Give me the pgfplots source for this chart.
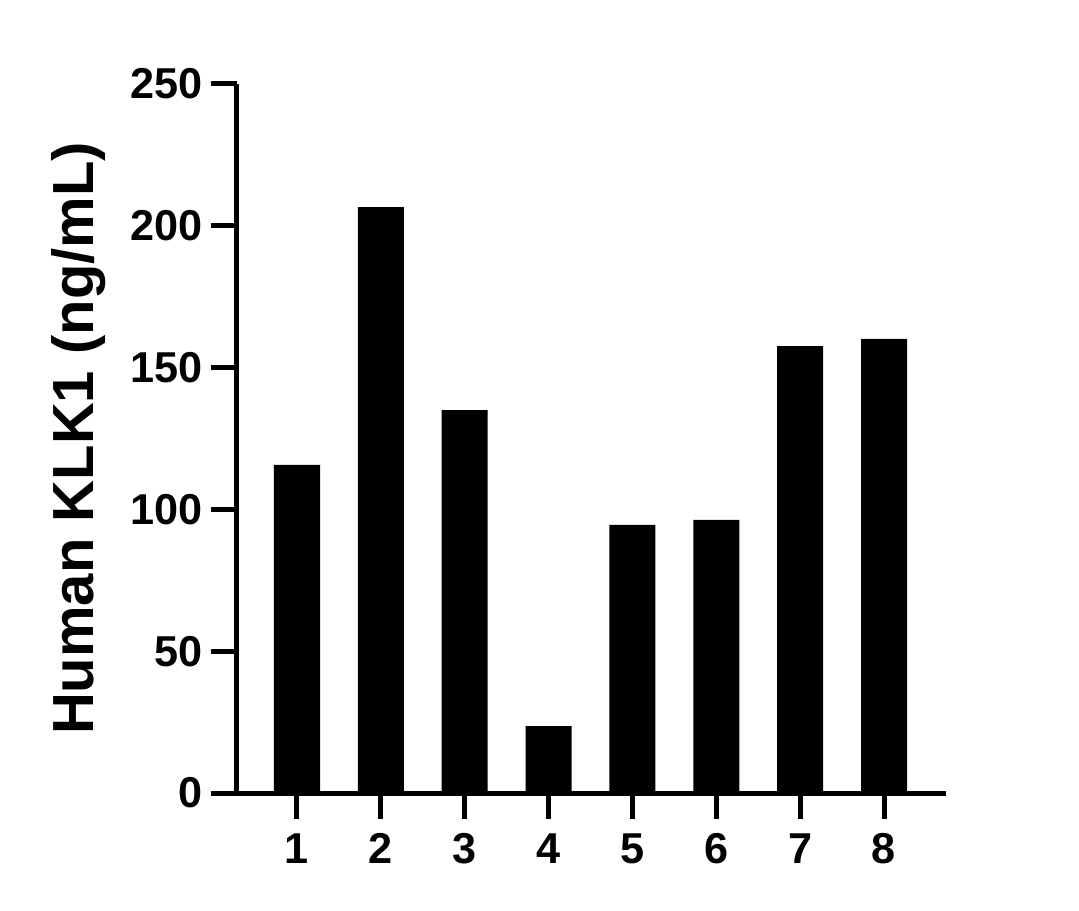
\documentclass[border=0pt]{standalone}
\usepackage{fontspec}
\setmainfont{Liberation Sans}
\usepackage{pgfplots}
\pgfplotsset{compat=1.18}

\pgfplotstableread{
x  y
1  115.7
2  206.6
3  135.0
4  23.6
5  94.5
6  96.3
7  157.6
8  160.1
}\klk

\begin{document}
\begin{tikzpicture}
\begin{axis}[
    name=ax,
    scale only axis,
    width=354.5pt, height=354.5pt,
    xmin=0.2845, xmax=8.7395,
    ymin=0, ymax=250,
    axis x line*=bottom,
    axis y line*=left,
    axis line style={-, line width=2.5pt},
    every tick/.style={black, line width=2.5pt},
    tick align=outside,
    major tick length=13pt,
    xtick={1,...,8},
    ytick={0,50,...,250},
    /pgf/number format/assume math mode=true,
    tick label style={font=\fontsize{21.6}{24}\selectfont\bfseries},
    yticklabel style={anchor=east, inner sep=0pt, xshift=-4pt},
    xticklabel style={anchor=north, inner sep=0pt, yshift=-7pt},
    ylabel={Human KLK1 (ng/mL)},
    ylabel style={font=\fontsize{29}{32}\selectfont\bfseries,
        at={(axis description cs:-0.2017,0.5)}, anchor=base},
    ybar, bar width=23pt, bar shift=0pt,
    clip=false,
]
\addplot[fill=black, draw=none] table[x=x, y=y] {\klk};
\end{axis}
\path[use as bounding box] (ax.south west) ++(-118.5pt,-58.5pt) rectangle ++(539.5pt,455pt);
\end{tikzpicture}
\end{document}
